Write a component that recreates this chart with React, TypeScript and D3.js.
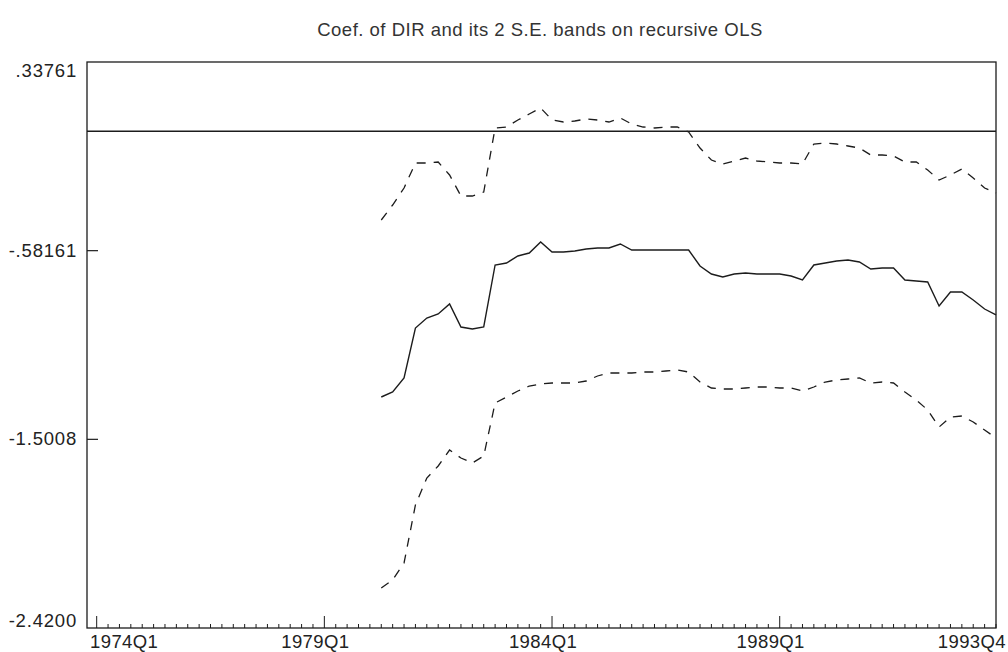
import React from "react";
import * as d3 from "d3";

// Quarter index 0 = 1974Q1; series start at 1980Q2 (index 25) and end at 1993Q4 (index 79)
const startIndex = 25;

const coef = [
  -1.2946, -1.2702, -1.202, -0.9584, -0.9097, -0.8902, -0.8414, -0.9535, -0.9633, -0.9535,
  -0.6514, -0.6417, -0.6076, -0.593, -0.5394, -0.5881, -0.5881, -0.5832, -0.5735, -0.5686,
  -0.5686, -0.5491, -0.5784, -0.5784, -0.5784, -0.5784, -0.5784, -0.5784, -0.6563, -0.6953,
  -0.7099, -0.6953, -0.6904, -0.6953, -0.6953, -0.6953, -0.705, -0.7245, -0.6514, -0.6417,
  -0.6319, -0.6271, -0.6368, -0.6709, -0.6661, -0.6661, -0.7245, -0.7294, -0.7343, -0.8512,
  -0.783, -0.783, -0.822, -0.8658, -0.895,
];

const upperBand = [
  -0.4322, -0.3591, -0.2763, -0.1545, -0.1545, -0.1496, -0.2129, -0.3153, -0.3153, -0.2958,
  0.016, 0.0209, 0.055, 0.0842, 0.1135, 0.055, 0.0453, 0.0501, 0.0599, 0.055,
  0.0453, 0.0648, 0.0355, 0.0209, 0.016, 0.0209, 0.0209, -0.0034, -0.0814, -0.1399,
  -0.1594, -0.1447, -0.1301, -0.1447, -0.1496, -0.1545, -0.1545, -0.1594, -0.0619, -0.057,
  -0.0619, -0.0717, -0.0814, -0.1155, -0.1155, -0.1204, -0.1496, -0.1496, -0.1886, -0.2373,
  -0.2129, -0.1837, -0.2276, -0.2763, -0.3006,
];

const lowerBand = [
  -2.2251, -2.1862, -2.1033, -1.8207, -1.6892, -1.6307, -1.5528, -1.5917, -1.6161, -1.582,
  -1.3238, -1.2946, -1.2653, -1.241, -1.2312, -1.2263, -1.2263, -1.2263, -1.2166, -1.1922,
  -1.1776, -1.1776, -1.1776, -1.1728, -1.1728, -1.1679, -1.163, -1.1728, -1.2215, -1.2507,
  -1.2556, -1.2556, -1.2507, -1.2458, -1.2458, -1.2507, -1.2507, -1.2653, -1.2458, -1.2215,
  -1.2117, -1.2069, -1.202, -1.2263, -1.2215, -1.2263, -1.2702, -1.3092, -1.3579, -1.4407,
  -1.392, -1.3871, -1.4164, -1.4553, -1.4943,
];

const yTickValues = [0.33761, -0.58161, -1.5008, -2.42];
const yTickLabels = [".33761", "-.58161", "-1.5008", "-2.4200"];
const xMajorIndex = [0, 20, 40, 60, 79];
const xMajorLabels = ["1974Q1", "1979Q1", "1984Q1", "1989Q1", "1993Q4"];
const quarterCount = 80;

const title = "Coef. of DIR and its 2 S.E. bands on recursive OLS";

export default function App() {
  const W = 1008;
  const H = 652;
  const left = 87;
  const right = 996;
  const top = 62;
  const bottom = 628;

  const x = d3.scaleLinear().domain([-0.85, 79]).range([left, right]);
  const y = d3.scaleLinear().domain([-2.42, 0.33761]).range([bottom, top]);

  const toPts = (arr: number[]) => arr.map((v, i) => [startIndex + i, v] as [number, number]);
  const line = d3
    .line<[number, number]>()
    .x((d) => x(d[0]))
    .y((d) => y(d[1]))
    .curve(d3.curveLinear);

  const font = "'Liberation Sans', Arial, Helvetica, sans-serif";
  const ink = "#1c1c1c";

  const minorTicks = d3.range(0, quarterCount);

  const labelX = (k: number) => {
    if (k === 0) return { x: left + 3, anchor: "start" };
    if (k === xMajorIndex.length - 1) return { x: right + 10, anchor: "end" };
    return { x: x(xMajorIndex[k]) - 9, anchor: "middle" };
  };

  const yLabelY = (k: number) => {
    if (k === 0) return y(yTickValues[k]) + 15;
    if (k === yTickValues.length - 1) return y(yTickValues[k]) - 1;
    return y(yTickValues[k]) + 6;
  };

  return (
    <svg
      width={W}
      height={H}
      style={{ position: "absolute", left: 0, top: 0, background: "#fff" }}
      fontFamily={font}
    >
      <rect x={0} y={0} width={W} height={H} fill="#fff" />
      <text x={540} y={36} textAnchor="middle" fontSize={18.5} letterSpacing={0.5} fill="#333">
        {title}
      </text>

      {/* frame */}
      <rect x={left} y={top} width={right - left} height={bottom - top} fill="none" stroke={ink} strokeWidth={1.3} />

      {/* y ticks */}
      {yTickValues.map((v, k) => (
        <g key={"yt" + k}>
          {k > 0 && k < yTickValues.length - 1 && (
            <line x1={left} x2={left + 11} y1={y(v)} y2={y(v)} stroke={ink} strokeWidth={1.2} />
          )}
          <text x={77} y={yLabelY(k)} textAnchor="end" fontSize={18.5} letterSpacing={0.8} fill="#222">
            {yTickLabels[k]}
          </text>
        </g>
      ))}

      {/* x ticks */}
      {minorTicks.map((i) => (
        <line
          key={"xm" + i}
          x1={x(i)}
          x2={x(i)}
          y1={bottom}
          y2={bottom - (xMajorIndex.slice(0, 4).includes(i) ? 12 : 4)}
          stroke={ink}
          strokeWidth={1}
        />
      ))}
      {xMajorLabels.map((lab, k) => {
        const p = labelX(k);
        return (
          <text key={"xl" + k} x={p.x} y={648} textAnchor={p.anchor as any} fontSize={18.5} letterSpacing={0.4} fill="#222">
            {lab}
          </text>
        );
      })}

      {/* zero line */}
      <line x1={left} x2={right} y1={y(0)} y2={y(0)} stroke={ink} strokeWidth={1.4} />

      {/* series */}
      <path d={line(toPts(upperBand)) || ""} fill="none" stroke={ink} strokeWidth={1.3} strokeDasharray="9,8" />
      <path d={line(toPts(lowerBand)) || ""} fill="none" stroke={ink} strokeWidth={1.3} strokeDasharray="9,8" />
      <path d={line(toPts(coef)) || ""} fill="none" stroke={ink} strokeWidth={1.4} />
    </svg>
  );
}
